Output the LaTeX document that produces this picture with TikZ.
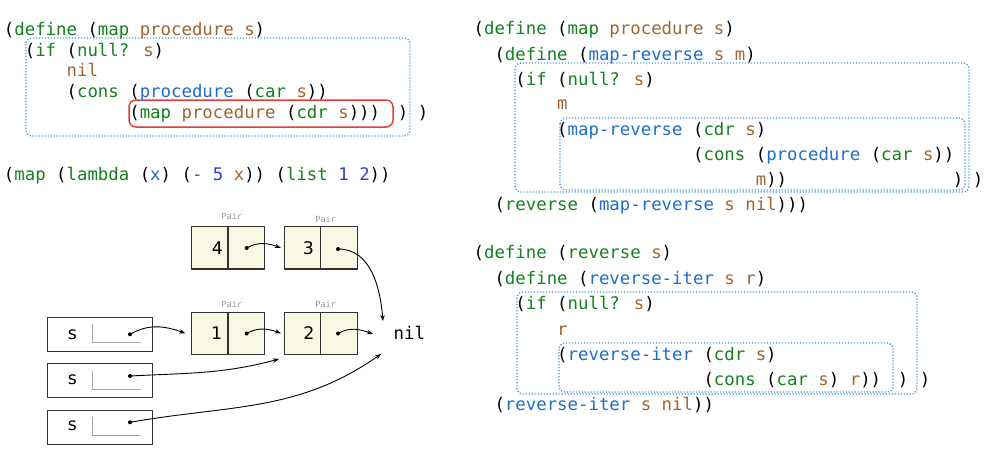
\documentclass[tikz,border=0pt]{standalone}
\usepackage{fontspec}
\setmainfont{DejaVu Sans}
\newfontfamily\codefont{DejaVu Sans Mono}
\usetikzlibrary{arrows.meta}
\definecolor{kwc}{RGB}{20,128,30}
\definecolor{fnc}{RGB}{30,110,200}
\definecolor{vac}{RGB}{160,100,50}
\definecolor{nmc}{RGB}{50,60,210}
\definecolor{dotc}{RGB}{80,155,220}
\definecolor{redc}{RGB}{230,60,60}
\definecolor{pairfill}{RGB}{249,248,226}
\definecolor{edgec}{RGB}{50,50,50}
\definecolor{lgray}{RGB}{160,170,180}
\newcommand\Kw[1]{\textcolor{kwc}{#1}}
\newcommand\Fn[1]{\textcolor{fnc}{#1}}
\newcommand\Va[1]{\textcolor{vac}{#1}}
\newcommand\Nm[1]{\textcolor{nmc}{#1}}
\begin{document}
\begin{tikzpicture}[x=1pt,y=-1pt,
  code/.style={anchor=base west, inner sep=0pt, font=\codefont\fontsize{17.36}{20}\selectfont},
  cparen/.style={anchor=base, inner sep=0pt, font=\codefont\fontsize{17.36}{20}\selectfont},
  dotbox/.style={draw=dotc, line width=1.3pt, dash pattern=on 1.3pt off 1.7pt, rounded corners=6pt},
  redbox/.style={draw=redc, line width=1.5pt, rounded corners=7pt},
  half/.style={draw=edgec, fill=pairfill, line width=1.1pt, minimum width=36.3pt, minimum height=42.3pt, inner sep=0pt},
  frm/.style={draw=edgec, line width=1.1pt, minimum width=105pt, minimum height=34pt, inner sep=0pt},
  num/.style={inner sep=0pt, font=\fontsize{17.36}{20}\selectfont},
  plabel/.style={inner sep=0pt, text=black!40, font=\codefont\fontsize{8.5}{10}\selectfont},
  ptdot/.style={circle, fill=black, inner sep=0pt, minimum size=4pt},
  ptr/.style={-{Stealth[length=6pt,width=4.5pt]}, line width=0.9pt},
  lline/.style={draw=lgray, line width=0.9pt}
]
\useasboundingbox (0,0) rectangle (1001,460);

% ---------- left code ----------
\draw[dotbox] (26,38) rectangle (410,136);
\draw[redbox] (129,100) rectangle (393,127);
\node[code] (a1) at (3.7,35.4) {(\Kw{define} (\Kw{map} \Va{procedure} \Va{s})};
\node[code] (a2) at (24.6,56.2) {(\Kw{if} (\Kw{null?} \Va{s})};
\node[code] (a3) at (66.4,77) {\Va{nil}};
\node[code] (a4) at (66.4,97.8) {(\Kw{cons} (\Fn{procedure} (\Kw{car} \Va{s}))};
\node[code] (a5) at (129.1,118.6) {(\Kw{map} \Va{procedure} (\Kw{cdr} \Va{s})))};
\node[cparen] (a5p1) at (403,118.6) {)};
\node[cparen] (a5p2) at (423,118.6) {)};
\node[code] (a6) at (3.7,180.5) {(\Kw{map} (\Kw{lambda} (\Fn{x}) (\Kw{-} \Nm{5} \Va{x})) (\Kw{list} \Nm{1} \Nm{2}))};

% ---------- right code, block 1 ----------
\draw[dotbox] (515,63) rectangle (969,192);
\draw[dotbox] (560,118) rectangle (965,190);
\node[code] (b1) at (473.4,35) {(\Kw{define} (\Kw{map} \Va{procedure} \Va{s})};
\node[code] (b2) at (494.3,60) {(\Kw{define} (\Fn{map-reverse} \Va{s} \Va{m})};
\node[code] (b3) at (515.2,85) {(\Kw{if} (\Kw{null?} \Va{s})};
\node[code] (b4) at (557,110) {\Va{m}};
\node[code] (b5) at (557,135) {(\Fn{map-reverse} (\Kw{cdr} \Va{s})};
\node[code] (b6) at (692.9,160) {(\Kw{cons} (\Fn{procedure} (\Kw{car} \Va{s}))};
\node[code] (b7) at (755.6,185) {\Va{m}))};
\node[cparen] (b7p1) at (958,185) {)};
\node[cparen] (b7p2) at (978,185) {)};
\node[code] (b8) at (494.3,210) {(\Kw{reverse} (\Fn{map-reverse} \Va{s} \Va{nil})))};

% ---------- right code, block 2 ----------
\draw[dotbox] (517,292) rectangle (917,394);
\draw[dotbox] (559,343) rectangle (893,392);
\node[code] (c1) at (473.4,258.5) {(\Kw{define} (\Kw{reverse} \Va{s})};
\node[code] (c2) at (494.3,284) {(\Kw{define} (\Fn{reverse-iter} \Va{s} \Va{r})};
\node[code] (c3) at (515.2,309.5) {(\Kw{if} (\Kw{null?} \Va{s})};
\node[code] (c4) at (557,335) {\Va{r}};
\node[code] (c5) at (557,360) {(\Fn{reverse-iter} (\Kw{cdr} \Va{s})};
\node[code] (c6) at (703.3,385.5) {(\Kw{cons} (\Kw{car} \Va{s}) \Va{r}))};
\node[cparen] (c6p1) at (903,385.5) {)};
\node[cparen] (c6p2) at (925,385.5) {)};
\node[code] (c7) at (494.3,410.5) {(\Fn{reverse-iter} \Va{s} \Va{nil}))};

% ---------- box-and-pointer diagram ----------
\node[half] (p4a) at (209.9,247.8) {};
\node[half] (p4b) at (246.1,247.8) {};
\node[half] (p3a) at (302.5,247.8) {};
\node[half] (p3b) at (338.9,247.8) {};
\node[half] (p1a) at (209.9,333.3) {};
\node[half] (p1b) at (246.1,333.3) {};
\node[half] (p2a) at (302.5,333.3) {};
\node[half] (p2b) at (338.9,333.3) {};
\node[num] (n4) at (217.3,247.8) {4};
\node[num] (n3) at (308.3,247.8) {3};
\node[num] (n1) at (216.7,333.3) {1};
\node[num] (n2) at (309,333.3) {2};
\node[plabel] (l4) at (231.7,216.7) {Pair};
\node[plabel] (l3) at (325.7,219) {Pair};
\node[plabel] (l1) at (231.7,304) {Pair};
\node[plabel] (l2) at (325.7,304) {Pair};
\node[code] (nil) at (393.5,339.5) {nil};
\coordinate (nilTop) at (383,321);
\coordinate (nilLeft) at (373,334);
\coordinate (nilBot) at (381,354);
\coordinate (p2corner) at (279,359);

\node[frm] (f1) at (99.8,334.5) {};
\node[frm] (f2) at (99.8,380.5) {};
\node[frm] (f3) at (99.8,427.8) {};
\node[num] (s1) at (72.3,334.3) {s};
\node[num] (s2) at (72.3,380) {s};
\node[num] (s3) at (72.3,425.5) {s};
\draw[lline] (92.3,324) -- (92.3,342.3) -- (140.7,342.3);
\draw[lline] (92.3,371) -- (92.3,389) -- (140.7,389);
\draw[lline] (92.3,417) -- (92.3,435.7) -- (140.7,435.7);

\node[ptdot] (d4) at (246.7,248) {};
\node[ptdot] (d3) at (338,249) {};
\node[ptdot] (d1) at (246.7,333.5) {};
\node[ptdot] (d2) at (338,333.5) {};
\node[ptdot] (e1) at (130,334.3) {};
\node[ptdot] (e2) at (130,376) {};
\node[ptdot] (e3) at (130,422.3) {};

\draw[ptr] (d4.center) to[out=30,in=160] ([xshift=-3pt]p3a.west);
\draw[ptr] (d3.center) to[out=0,in=95] (nilTop);
\draw[ptr] (d1.center) to[out=30,in=160] ([xshift=-3pt]p2a.west);
\draw[ptr] (d2.center) to[out=30,in=160] (nilLeft);
\draw[ptr] (e1.center) to[out=30,in=160] ([xshift=-6pt]p1a.west);
\draw[ptr] (e2.center) to[out=3,in=195] (p2corner);
\draw[ptr] (e3.center) to[out=10,in=215] (nilBot);
\end{tikzpicture}
\end{document}
